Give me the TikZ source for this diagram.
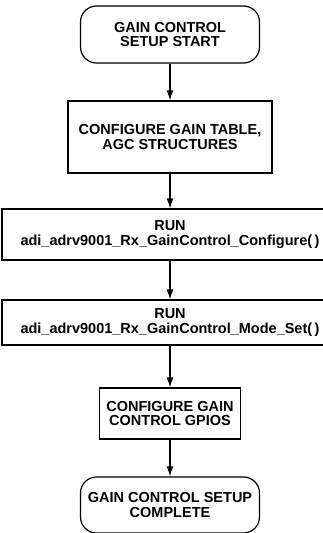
\documentclass[tikz,border=0pt]{standalone}
\usepackage{fontspec}
\setmainfont{Liberation Sans}
\usepackage{tikz}
\usetikzlibrary{arrows.meta,positioning,shapes}
\definecolor{ink}{HTML}{000000}
\tikzset{
  flowbox/.style={draw=ink,fill=white,line width=1.2pt,
                  align=center,font=\fontsize{14.5}{14.5}\selectfont\bfseries,inner sep=2pt},
  termbox/.style={flowbox,rounded corners=16pt},
  flowarr/.style={-{Latex[length=10pt,width=7pt]},line width=1.2pt,color=ink}
}
\begin{document}
\begin{tikzpicture}[x=1pt,y=-1pt]
  \clip (0,0) rectangle (323,533);
  \node[termbox,minimum width=179pt,minimum height=57pt] (start) at (170,34.5)
    {GAIN CONTROL\\SETUP START};
  \node[flowbox,minimum width=204pt,minimum height=72pt] (table) at (170,137)
    {CONFIGURE GAIN TABLE,\\AGC STRUCTURES};
  \node[flowbox,minimum width=336pt,minimum height=51pt] (conf) at (170,234.5)
    {RUN\\adi\_adrv9001\_Rx\_GainControl\_Configure(\,)};
  \node[flowbox,minimum width=336pt,minimum height=45pt] (mode) at (170,322.5)
    {RUN\\adi\_adrv9001\_Rx\_GainControl\_Mode\_Set(\,)};
  \node[flowbox,minimum width=141pt,minimum height=51pt] (gpio) at (170,413.5)
    {CONFIGURE GAIN\\CONTROL GPIOS};
  \node[termbox,minimum width=179pt,minimum height=56pt] (done) at (170,505)
    {GAIN CONTROL SETUP\\COMPLETE};

  \draw[flowarr] (start) -- (table);
  \draw[flowarr] (table) -- (conf);
  \draw[flowarr] (conf) -- (mode);
  \draw[flowarr] (mode) -- (gpio);
  \draw[flowarr] (gpio) -- (done);
\end{tikzpicture}
\end{document}
